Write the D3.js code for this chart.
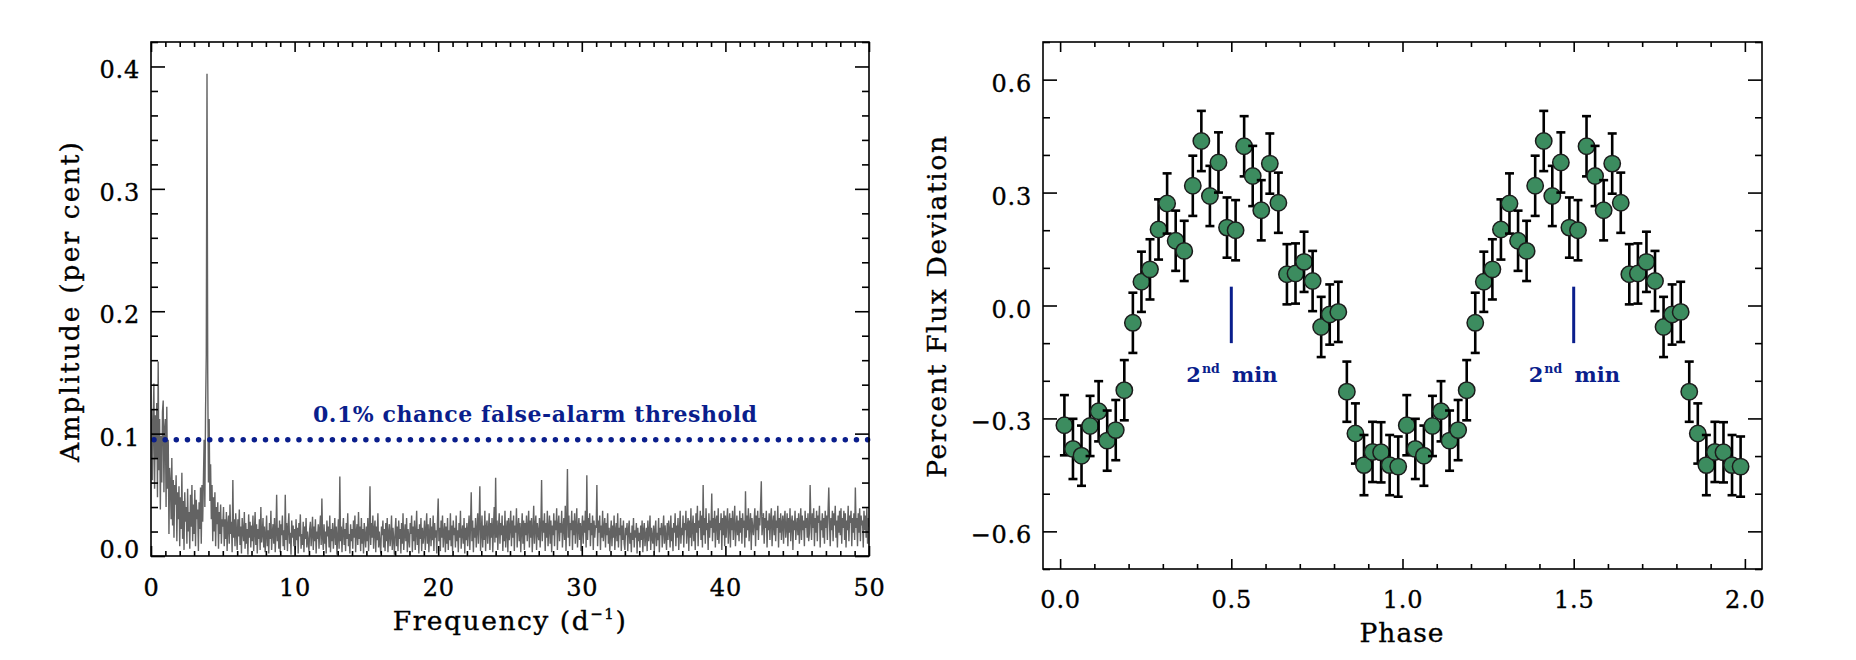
<!DOCTYPE html>
<html><head><meta charset="utf-8">
<script src="https://cdn.jsdelivr.net/npm/d3@7"></script>
<style>
body{margin:0;background:#fff;}
svg text{font-family:"DejaVu Serif",serif;fill:#000;}
.tick text{font-size:24px;letter-spacing:0.8px;stroke:#000;stroke-width:0.35px;}
.title{font-size:26.5px;stroke:#000;stroke-width:0.35px;}
.blue{fill:#0a1e8c !important;font-weight:bold;}
</style></head><body>
<svg id="c" width="1856" height="660"></svg>
<script>
// ---------------- DATA ----------------
const freqStep = 0.05;               // frequency grid of the periodogram (d^-1)
// amplitude in units of 0.001 per cent, one row per 1 d^-1 (20 values each)
const ampMilli = [
95,120,62,108,141,55,115,80,125,48,159,70,112,38,98,60,118,127,52,104,
112,40,122,55,95,18,72,60,30,80,25,62,15,58,42,66,12,52,30,57,
8,48,22,68,14,45,5,52,28,40,10,55,20,36,6,50,24,58,12,42,
18,54,8,46,30,38,4,44,22,56,10,58,28,62,95,40,120,165,394,150,
60,112,45,75,30,58,12,48,20,52,8,40,26,44,6,36,18,42,10,30,
24,40,8,30,14,36,4,26,33,10,42,18,28,3,62,15,30,8,35,20,
5,30,16,38,9,24,2,31,20,12,36,6,27,10,22,1,34,15,28,7,
25,12,33,4,20,36,9,26,2,22,14,30,5,40,11,18,31,7,24,3,
17,33,8,21,2,27,14,37,5,19,26,10,31,3,18,50,12,23,6,29,
3,26,17,33,8,21,5,50,13,27,4,23,35,10,19,1,29,15,25,8,
22,5,30,13,23,2,27,16,34,6,18,9,28,3,24,14,31,7,20,11,
4,22,28,8,18,32,5,24,12,30,2,20,14,26,6,22,33,9,47,15,
5,26,10,20,2,29,16,24,7,33,3,22,12,27,6,18,31,9,24,1,
16,30,6,65,12,24,3,20,31,9,22,4,27,14,35,8,18,2,26,12,
22,6,29,15,33,3,20,26,9,36,14,24,4,31,10,22,2,27,17,7,
24,12,31,4,20,57,9,27,15,33,6,22,29,3,24,13,35,7,20,10,
2,24,17,29,7,22,4,27,12,31,3,19,26,8,16,33,5,23,14,1,
20,31,8,24,4,29,14,22,2,27,10,35,5,18,26,12,31,3,22,15,
7,27,18,33,3,24,12,29,5,19,37,9,22,2,26,14,31,4,23,10,
18,29,5,21,35,10,26,3,19,31,8,24,13,33,4,27,15,21,2,29,
47,12,23,4,29,15,33,7,19,27,3,24,10,31,5,21,13,35,8,25,
4,29,17,23,7,33,12,21,3,27,15,37,6,19,25,10,31,2,23,13,
27,8,21,33,5,25,52,12,29,3,23,15,31,7,21,35,10,27,57,4,
19,33,7,25,13,37,4,23,29,10,21,35,5,27,15,31,3,23,40,11,
64,15,29,5,23,35,10,27,17,33,4,25,12,37,7,21,29,3,31,13,
23,37,8,29,15,33,4,25,19,39,7,23,31,12,27,3,21,35,10,29,
5,27,17,33,12,23,37,7,29,15,31,3,21,41,10,25,33,5,27,19,
13,31,7,23,62,12,29,19,35,4,27,15,37,8,23,33,10,29,3,25,
17,35,8,29,21,39,5,25,33,12,27,19,37,7,23,31,13,41,4,29,
71,15,33,8,27,21,37,5,29,17,35,10,25,39,7,23,31,13,27,4,
23,33,10,29,19,37,7,66,13,31,21,35,8,27,17,33,5,29,15,25,
23,58,8,29,19,33,5,25,15,37,12,23,31,7,27,17,35,10,23,4,
19,29,8,25,15,33,5,21,27,12,35,7,23,17,31,4,25,13,29,10,
5,23,17,27,4,21,29,10,19,3,25,13,31,7,21,15,27,2,23,12,
19,7,25,13,29,3,21,27,8,17,23,4,29,12,19,33,5,23,15,10,
25,4,21,29,8,19,13,31,3,23,17,27,7,21,33,10,25,15,5,27,
13,29,21,7,33,12,23,4,27,19,35,8,25,15,31,5,21,37,10,23,
17,33,7,27,21,37,10,23,31,4,29,15,39,8,23,33,12,27,5,35,
19,41,8,29,23,37,13,33,7,58,17,31,10,39,21,27,5,35,15,29,
23,51,12,31,19,37,7,29,33,13,39,10,27,21,35,5,31,17,37,8,
33,15,29,39,10,25,35,7,31,21,37,13,27,41,8,23,33,17,29,12,
37,19,31,10,35,23,29,7,53,15,33,21,39,12,27,35,5,31,23,17,
29,39,8,33,21,37,13,31,25,41,61,17,27,35,10,31,23,37,7,29,
21,35,13,31,39,8,27,33,17,37,12,29,23,41,7,31,19,35,13,27,
33,10,29,37,15,23,35,8,31,19,39,12,27,33,5,29,21,37,13,25,
31,17,35,10,27,39,13,33,21,29,8,37,23,31,15,35,12,19,58,29,
13,35,23,39,8,31,19,37,12,33,27,41,7,29,21,35,15,31,10,37,
23,33,13,37,56,27,8,31,21,37,12,35,25,41,15,29,7,33,19,37,
17,39,10,31,23,37,13,35,7,29,21,41,12,33,27,37,8,31,19,35,
13,56,23,31,8,35,19,39,12,33,25,29,7,37,21,33,15,39,10,31,
24
];
const thresholdAmp = 0.095;
const thresholdLabel = "0.1% chance false-alarm threshold";

const phaseBins = [0.0125,0.0375,0.0625,0.0875,0.1125,0.1375,0.1625,0.1875,0.2125,0.2375,
  0.2625,0.2875,0.3125,0.3375,0.3625,0.3875,0.4125,0.4375,0.4625,0.4875,
  0.5125,0.5375,0.5625,0.5875,0.6125,0.6375,0.6625,0.6875,0.7125,0.7375,
  0.7625,0.7875,0.8125,0.8375,0.8625,0.8875,0.9125,0.9375,0.9625,0.9875];
const flux = [-0.318,-0.381,-0.399,-0.320,-0.281,-0.359,-0.331,-0.225,-0.046,0.063,
  0.096,0.202,0.271,0.172,0.145,0.318,0.437,0.291,0.380,0.207,
  0.200,0.423,0.344,0.253,0.377,0.273,0.083,0.085,0.116,0.065,
  -0.057,-0.024,-0.017,-0.229,-0.340,-0.424,-0.389,-0.390,-0.424,-0.428];
const fluxErr = 0.08;
const cycles = [0, 1];
const markerPhases = [0.5, 1.5];
const markerRange = [0.05, -0.10];

const leftXTicks = [0,10,20,30,40,50];
const leftYTicks = [0,0.1,0.2,0.3,0.4];
const rightXTicks = [0,0.5,1,1.5,2];
const rightYTicks = [-0.6,-0.3,0,0.3,0.6];

// ---------------- LAYOUT ----------------
const svg = d3.select("#c");
const blue = "#0a1e8c";

function fitWidth(sel, target){
  const node = sel.node();
  const w = node.getComputedTextLength();
  const n = node.textContent.length;
  sel.attr("letter-spacing", (target - w) / (n - 1));
}

function drawAxes(g, x, y, o){
  const [x0,x1] = x.range(), [y0,y1] = y.range(); // y0 bottom, y1 top
  const add = (axis, tx, ty) => {
    const a = g.append("g").attr("transform",`translate(${tx},${ty})`).call(axis);
    a.select(".domain").remove();
    a.attr("font-family", null).attr("font-size", null);
    a.selectAll("line").attr("stroke","#000").attr("stroke-width",1.6);
    return a;
  };
  const b = add(d3.axisBottom(x).tickValues(o.xMajor).tickSize(-o.xLen).tickFormat(o.xFmt), 0, y0);
  b.selectAll("text").attr("y", o.xLabOff).attr("dy", 0);
  add(d3.axisBottom(x).tickValues(o.xMinor).tickSize(-o.xLen/2).tickFormat(""), 0, y0);
  add(d3.axisTop(x).tickValues(o.xMajor).tickSize(-o.xLen).tickFormat(""), 0, y1);
  add(d3.axisTop(x).tickValues(o.xMinor).tickSize(-o.xLen/2).tickFormat(""), 0, y1);
  const l = add(d3.axisLeft(y).tickValues(o.yMajor).tickSize(-o.yLen).tickFormat(o.yFmt), x0, 0);
  l.selectAll("text").attr("x", -11).attr("dy", 11.5);
  if (o.firstDy !== undefined) l.selectAll("text").filter(d => d === o.yMajor[0]).attr("dy", o.firstDy);
  add(d3.axisLeft(y).tickValues(o.yMinor).tickSize(-o.yLen/2).tickFormat(""), x0, 0);
  add(d3.axisRight(y).tickValues(o.yMajor).tickSize(-o.yLen).tickFormat(""), x1, 0);
  add(d3.axisRight(y).tickValues(o.yMinor).tickSize(-o.yLen/2).tickFormat(""), x1, 0);
  g.append("rect").attr("x",x0).attr("y",y1).attr("width",x1-x0).attr("height",y0-y1)
    .attr("fill","none").attr("stroke","#000").attr("stroke-width",1.6);
}

// ---------- Left panel: periodogram ----------
const xL = d3.scaleLinear([0,50],[151,869]);
const yL = d3.scaleLinear([0,0.42],[556,42]);
const gL = svg.append("g");

gL.append("clipPath").attr("id","clipL").append("rect")
  .attr("x",151).attr("y",42).attr("width",718).attr("height",514);

gL.append("path").datum(ampMilli)
  .attr("clip-path","url(#clipL)")
  .attr("fill","none").attr("stroke","#636363").attr("stroke-width",1.4)
  .attr("stroke-linejoin","miter").attr("stroke-miterlimit",3)
  .attr("d", d3.line().x((d,i)=>xL(i*freqStep)).y(d=>yL(d/1000)));

gL.append("line")
  .attr("x1",xL(0)+3).attr("x2",xL(50)).attr("y1",yL(thresholdAmp)).attr("y2",yL(thresholdAmp))
  .attr("stroke",blue).attr("stroke-width",5.5).attr("stroke-linecap","round")
  .attr("stroke-dasharray","0 11.15");

const thr = gL.append("text").attr("class","blue").attr("x",313).attr("y",421.5)
  .style("font-size","22px").text(thresholdLabel);
fitWidth(thr, 444);

drawAxes(gL, xL, yL, {
  xMajor:leftXTicks, xMinor:d3.range(0,51,1).filter(v=>v%10!==0), xLen:10, xFmt:d3.format("d"), xLabOff:40,
  yMajor:leftYTicks, yMinor:d3.range(0,0.421,0.02).filter((v,i)=>i%5!==0), yLen:14, yFmt:d3.format(".1f"),
  firstDy:1
});

const tYL = svg.append("text").attr("class","title").attr("text-anchor","middle")
  .attr("transform","translate(79,301) rotate(-90)").text("Amplitude (per cent)");
fitWidth(tYL, 320);

const tXL = svg.append("text").attr("class","title").attr("text-anchor","middle")
  .attr("x",510).attr("y",630);
tXL.append("tspan").text("Frequency (d");
tXL.append("tspan").attr("dy",-11).style("font-size","15px").text("−1");
tXL.append("tspan").attr("dy",11).text(")");
fitWidth(tXL, 233);

// ---------- Right panel: phased light curve ----------
const xR = d3.scaleLinear([-0.05,2.05],[1043,1762]);
const yR = d3.scaleLinear([-0.7,0.7],[569,42]);
const gR = svg.append("g");

drawAxes(gR, xR, yR, {
  xMajor:rightXTicks, xMinor:d3.range(0,2.01,0.1).filter((v,i)=>i%5!==0), xLen:10, xFmt:d3.format(".1f"), xLabOff:39,
  yMajor:rightYTicks, yMinor:d3.range(-0.7,0.71,0.1).filter((v,i)=>(i-1)%3!==0), yLen:14, yFmt:d3.format(".1f")
});

markerPhases.forEach(p=>{
  gR.append("line").attr("x1",xR(p)).attr("x2",xR(p))
    .attr("y1",yR(markerRange[0])).attr("y2",yR(markerRange[1]))
    .attr("stroke",blue).attr("stroke-width",3);
  const t = gR.append("text").attr("class","blue").attr("x",xR(p)-45).attr("y",yR(markerRange[1])+38.5)
    .style("font-size","21px");
  t.append("tspan").text("2");
  t.append("tspan").attr("dy",-9).attr("dx",1).style("font-size","12.5px").text("nd");
  t.append("tspan").attr("dy",9).attr("dx",5).text(" min");
});

const pts = [];
cycles.forEach(c => phaseBins.forEach((p,i) => pts.push({x:p+c, y:flux[i]})));
const pg = gR.selectAll("g.pt").data(pts).join("g").attr("class","pt");
pg.append("line").attr("x1",d=>xR(d.x)).attr("x2",d=>xR(d.x))
  .attr("y1",d=>yR(d.y+fluxErr)).attr("y2",d=>yR(d.y-fluxErr))
  .attr("stroke","#000").attr("stroke-width",2.6);
[1,-1].forEach(s=>{
  pg.append("line").attr("x1",d=>xR(d.x)-4.5).attr("x2",d=>xR(d.x)+4.5)
    .attr("y1",d=>yR(d.y+s*fluxErr)).attr("y2",d=>yR(d.y+s*fluxErr))
    .attr("stroke","#000").attr("stroke-width",2.6);
});
pg.append("circle").attr("cx",d=>xR(d.x)).attr("cy",d=>yR(d.y)).attr("r",8.2)
  .attr("fill","#3c8c5f").attr("stroke","#1c1c1c").attr("stroke-width",1.5);

const tYR = svg.append("text").attr("class","title").attr("text-anchor","middle")
  .attr("transform","translate(946,306) rotate(-90)").text("Percent Flux Deviation");
fitWidth(tYR, 342);
const tXR = svg.append("text").attr("class","title").attr("text-anchor","middle")
  .attr("x",1402).attr("y",642).text("Phase");
fitWidth(tXR, 84);
</script>
</body></html>
